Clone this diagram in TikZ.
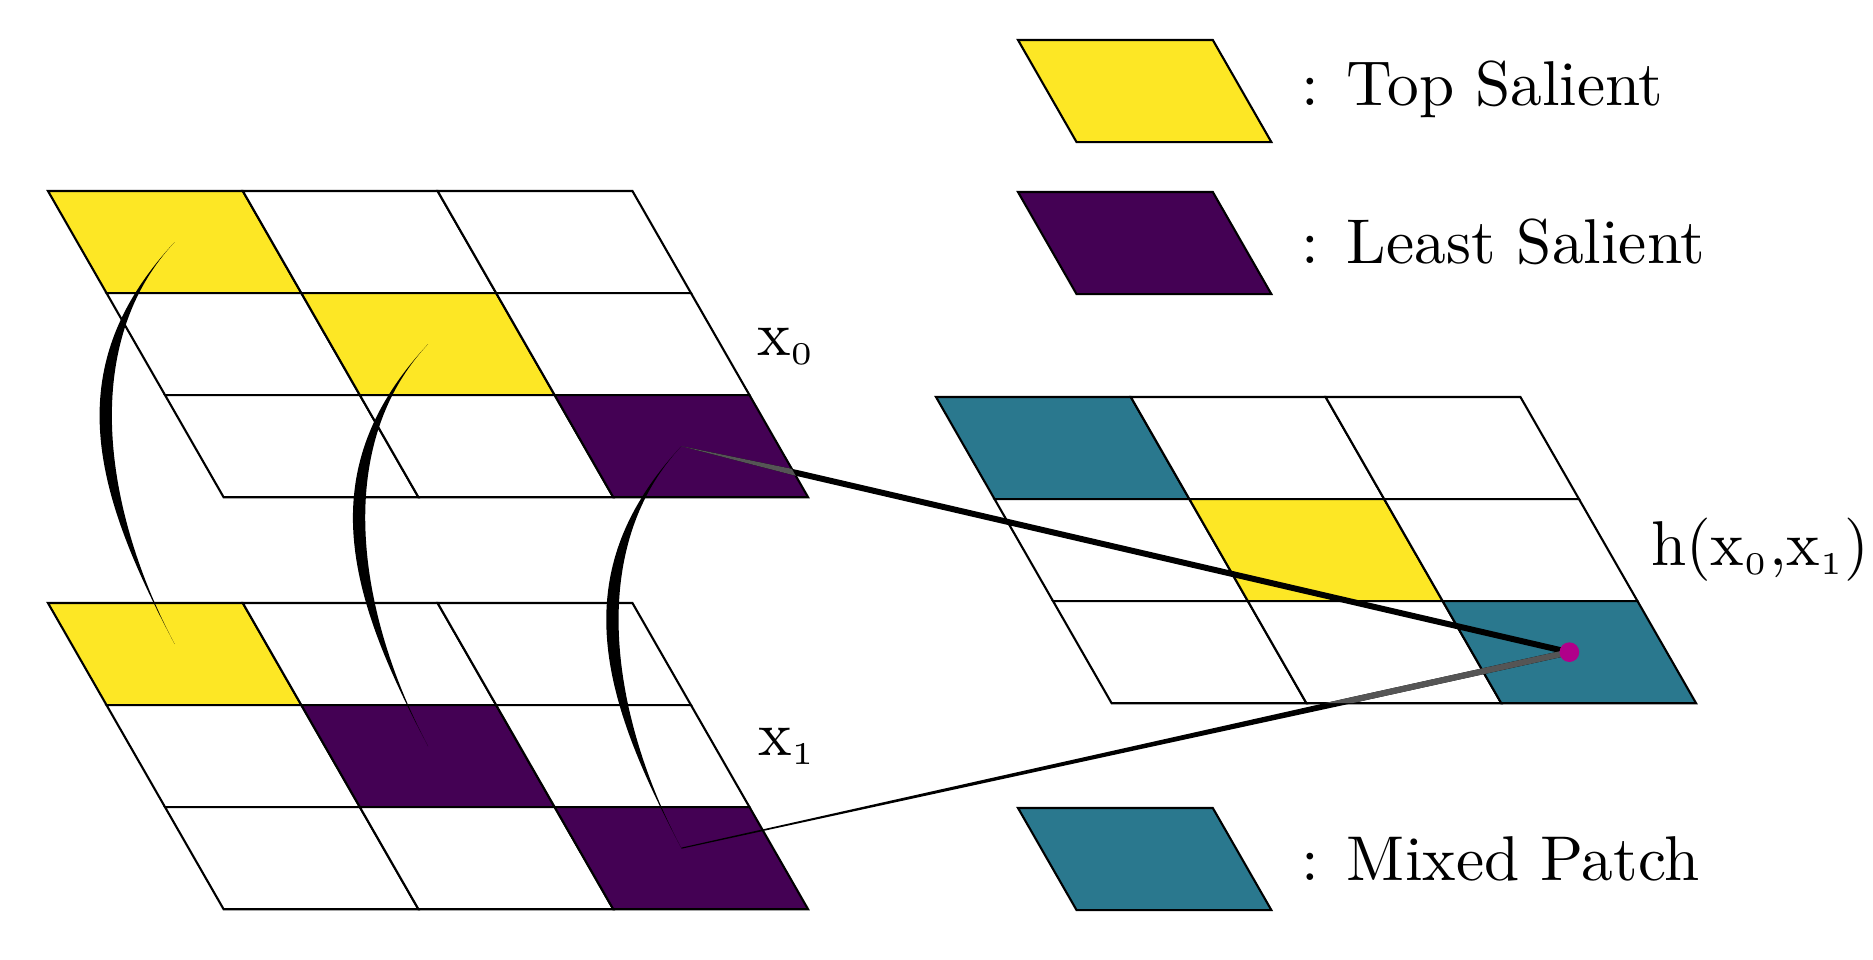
\documentclass[tikz,border=0pt]{standalone}
\usepackage{amsmath}
\usepackage{tikz}
\usetikzlibrary{calc, positioning}

\definecolor{topsal}{HTML}{FDE725}
\definecolor{leastsal}{HTML}{440154}
\definecolor{mixpatch}{HTML}{2A788E}
\definecolor{mixdot}{HTML}{B0008A}
\definecolor{linegray}{HTML}{555555}

% 3x3 grid of slanted patches: #1 name, #2 colours row by row
\newcommand{\patchgrid}[2]{
    \foreach \c [count=\k from 0] in {#2} {
        \pgfmathtruncatemacro{\i}{mod(\k,3)}
        \pgfmathtruncatemacro{\j}{div(\k,3)}
        \filldraw[patchcell, fill=\c] (\i,\j) -- ++(1,0) -- ++(0,1) -- ++(-1,0) -- cycle;
        \coordinate (#1-\i-\j) at (\i+0.5,\j+0.5);
    }
    \coordinate (#1-nw) at (0,0);
    \coordinate (#1-ne) at (3,0);
    \coordinate (#1-se) at (3,3);
    \coordinate (#1-sw) at (0,3);
}

% tapered connectors into the mixed patch
\newcommand{\wedgezero}[1]{\fill[#1] (p0) -- ($(e0)!0.85pt!90:(dot)$) -- ($(dot)!0.85pt!-90:(e0)$)
    -- ($(dot)!0.85pt!90:(e0)$) -- ($(e0)!0.85pt!-90:(dot)$) -- cycle;}
\newcommand{\wedgeone}[1]{\fill[#1] ($(p1)!0.15pt!90:(dot)$) -- ($(e1)!0.85pt!90:(dot)$) -- ($(dot)!0.85pt!-90:(e1)$)
    -- ($(dot)!0.85pt!90:(e1)$) -- ($(e1)!0.85pt!-90:(dot)$) -- ($(p1)!0.15pt!-90:(dot)$) -- cycle;}
\newcommand{\xsub}[1]{\mathrm{x}_{\scriptscriptstyle #1}}

\begin{document}
\begin{tikzpicture}[x=0.01cm, y=0.01cm,
    every node/.style={inner sep=0pt, scale=1.8},
    cellsys/.style={x={(1.947cm,0cm)}, y={(0.585cm,-1.02cm)}},
    patchcell/.style={draw=black, line width=0.6pt}]
    \useasboundingbox (0,0) rectangle (1873,-959);

    % x_0, x_1 and the mixed grid
    \begin{scope}[shift={(48,-191)}, cellsys]
        \patchgrid{a}{topsal,white,white, white,topsal,white, white,white,leastsal}
    \end{scope}
    \begin{scope}[shift={(48,-603)}, cellsys]
        \patchgrid{b}{topsal,white,white, white,leastsal,white, white,white,leastsal}
    \end{scope}
    \begin{scope}[shift={(936,-397)}, cellsys]
        \patchgrid{c}{mixpatch,white,white, white,topsal,white, white,white,mixpatch}
    \end{scope}

    \node[anchor=base west] (lx0) at (756,-355) {$\xsub{0}$};
    \node[anchor=base west] (lx1) at (757,-755) {$\xsub{1}$};
    \node[anchor=base west] (lh) at (1650,-565) {$\mathrm{h}(\xsub{0}{,}\xsub{1})$};

    % legend
    \begin{scope}[shift={(1018,-40)}, cellsys]
        \filldraw[patchcell, fill=topsal] (0,0) -- (1,0) -- (1,1) -- (0,1) -- cycle;
    \end{scope}
    \begin{scope}[shift={(1018,-192)}, cellsys]
        \filldraw[patchcell, fill=leastsal] (0,0) -- (1,0) -- (1,1) -- (0,1) -- cycle;
    \end{scope}
    \begin{scope}[shift={(1018,-808)}, cellsys]
        \filldraw[patchcell, fill=mixpatch] (0,0) -- (1,0) -- (1,1) -- (0,1) -- cycle;
    \end{scope}
    \node[anchor=base west] (ltop) at (1300,-105) {: Top Salient};
    \node[anchor=base west] (lleast) at (1300,-263) {: Least Salient};
    \node[anchor=base west] (lmix) at (1300,-880) {: Mixed Patch};

    % swaps between x_0 and x_1
    \foreach \n in {0,1,2}
        \fill (a-\n-\n) to[out=-133, in=118, looseness=1.1] ($(b-\n-\n)+(0,10)$)
            to[out=118, in=-133, looseness=0.92] (a-\n-\n);

    \coordinate (p0) at (a-2-2);
    \coordinate (p1) at ($(b-2-2)+(0,10)$);
    \coordinate (dot) at (c-2-2);
    \coordinate (e0) at ($(p0)!0.13!(dot)$);
    \coordinate (e1) at ($(p1)!0.75!(dot)$);

    \wedgezero{black}
    \wedgeone{black}
    \begin{scope}
        \clip (a-nw) -- (a-ne) -- (a-se) -- (a-sw) -- cycle;
        \wedgezero{linegray}
    \end{scope}
    \begin{scope}
        \clip (c-nw) -- (c-ne) -- (c-se) -- (c-sw) -- cycle;
        \wedgeone{linegray}
    \end{scope}
    \fill[mixdot] (dot) circle (2.8pt);
\end{tikzpicture}
\end{document}
